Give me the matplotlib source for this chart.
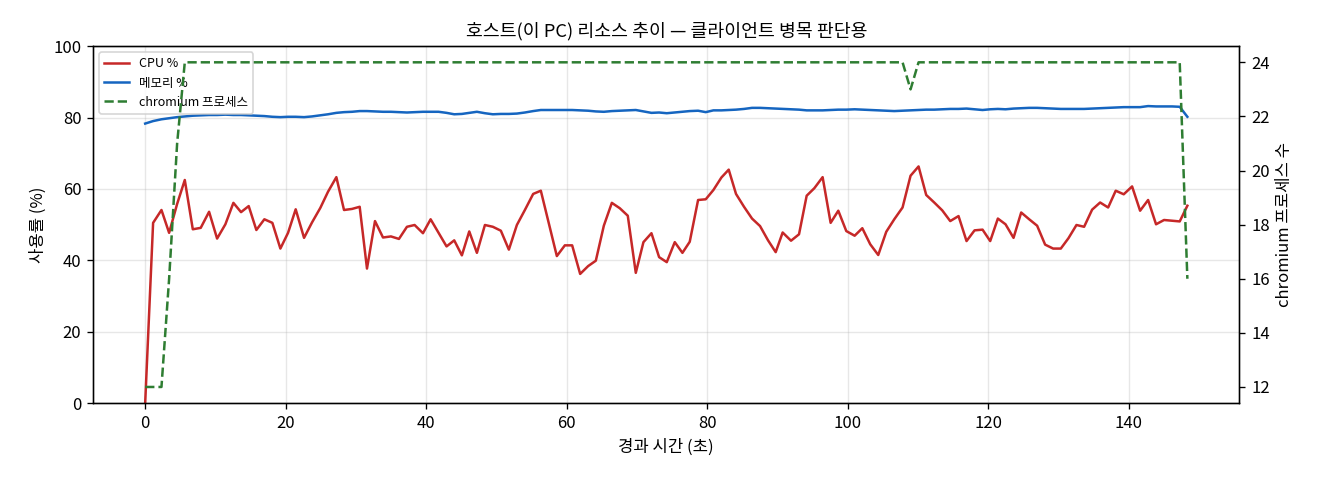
import matplotlib
matplotlib.use("Agg")
import matplotlib.pyplot as plt

plt.rcParams['font.family'] = ['Noto Sans CJK KR', 'DejaVu Sans']
plt.rcParams['axes.unicode_minus'] = False

# elapsed time (s) of each sample
t = [0.0, 1.13, 2.32, 3.41, 4.55, 5.64, 6.78, 7.91, 9.10, 10.24,
     11.42, 12.56, 13.65, 14.74, 15.83, 16.97, 18.11, 19.25, 20.34, 21.43,
     22.62, 23.75, 24.94, 26.03, 27.22, 28.31, 29.45, 30.54, 31.58, 32.72,
     33.86, 34.99, 36.13, 37.27, 38.36, 39.55, 40.64, 41.77, 42.91, 44.00,
     45.09, 46.14, 47.23, 48.37, 49.50, 50.64, 51.78, 52.92, 54.06, 55.24,
     56.33, 57.47, 58.61, 59.75, 60.79, 61.93, 63.07, 64.16, 65.30, 66.44,
     67.57, 68.71, 69.85, 70.94, 72.08, 73.17, 74.26, 75.40, 76.49, 77.53,
     78.72, 79.81, 80.90, 82.04, 83.08, 84.12, 85.26, 86.40, 87.54, 88.68,
     89.77, 90.76, 91.95, 93.09, 94.18, 95.27, 96.45, 97.59, 98.68, 99.82,
     101.01, 102.10, 103.23, 104.37, 105.51, 106.65, 107.83, 108.97, 110.11, 111.20,
     112.34, 113.48, 114.62, 115.80, 116.94, 118.08, 119.22, 120.31, 121.40, 122.49,
     123.63, 124.72, 125.86, 126.99, 128.13, 129.27, 130.36, 131.45, 132.59, 133.68,
     134.82, 135.96, 137.10, 138.18, 139.32, 140.51, 141.65, 142.79, 143.92, 145.06,
     146.20, 147.29, 148.38]

cpu = [0.0, 50.5, 54.1, 47.7, 55.8, 62.5, 48.7, 49.1, 53.6, 46.1,
       50.1, 56.1, 53.5, 55.2, 48.5, 51.5, 50.5, 43.3, 47.7, 54.3,
       46.3, 50.6, 54.7, 59.2, 63.3, 54.1, 54.4, 55.0, 37.7, 51.0,
       46.4, 46.7, 46.0, 49.4, 49.9, 47.6, 51.5, 47.7, 43.9, 45.6,
       41.4, 48.1, 42.1, 49.9, 49.4, 48.3, 43.0, 49.9, 54.1, 58.6,
       59.5, 50.3, 41.2, 44.2, 44.2, 36.2, 38.4, 39.9, 49.7, 56.1,
       54.6, 52.5, 36.5, 45.1, 47.6, 40.9, 39.5, 45.1, 42.1, 45.2,
       56.9, 57.1, 59.7, 63.2, 65.4, 58.6, 55.0, 51.7, 49.6, 45.6,
       42.3, 47.8, 45.5, 47.3, 58.1, 60.2, 63.3, 50.5, 53.9, 48.2,
       46.9, 49.0, 44.5, 41.5, 48.0, 51.5, 54.8, 63.7, 66.3, 58.3,
       56.2, 54.0, 51.0, 52.4, 45.4, 48.4, 48.6, 45.4, 51.7, 50.1,
       46.3, 53.4, 51.5, 49.7, 44.4, 43.3, 43.3, 46.2, 49.9, 49.4,
       54.2, 56.2, 54.8, 59.5, 58.5, 60.7, 53.9, 56.9, 50.1, 51.3,
       51.1, 50.9, 55.3]

mem = [78.3, 79.0, 79.5, 79.8, 80.1, 80.3, 80.5, 80.6, 80.7, 80.7,
       80.8, 80.7, 80.7, 80.6, 80.5, 80.4, 80.2, 80.1, 80.2, 80.2,
       80.1, 80.3, 80.6, 80.9, 81.3, 81.5, 81.6, 81.8, 81.8, 81.7,
       81.6, 81.6, 81.5, 81.4, 81.5, 81.6, 81.6, 81.6, 81.3, 80.9,
       81.0, 81.3, 81.6, 81.2, 80.9, 81.0, 81.0, 81.1, 81.4, 81.8,
       82.1, 82.1, 82.1, 82.1, 82.1, 82.0, 81.9, 81.7, 81.6, 81.8,
       81.9, 82.0, 82.1, 81.7, 81.3, 81.4, 81.2, 81.4, 81.6, 81.8,
       81.9, 81.5, 82.0, 82.0, 82.1, 82.2, 82.4, 82.7, 82.7, 82.6,
       82.5, 82.4, 82.3, 82.2, 82.0, 82.0, 82.0, 82.1, 82.2, 82.2,
       82.3, 82.2, 82.1, 82.0, 81.9, 81.8, 81.9, 82.0, 82.1, 82.2,
       82.2, 82.3, 82.4, 82.4, 82.5, 82.3, 82.1, 82.3, 82.4, 82.3,
       82.5, 82.6, 82.7, 82.7, 82.6, 82.5, 82.4, 82.4, 82.4, 82.4,
       82.5, 82.6, 82.7, 82.8, 82.9, 82.9, 82.9, 83.2, 83.1, 83.1,
       83.1, 83.0, 80.2]

procs = [12, 12, 12, 16, 21] + [24] * 92 + [23] + [24] * 34 + [16]

fig, ax = plt.subplots(figsize=(11, 4), dpi=120)
fig.subplots_adjust(left=0.0705, right=0.939, top=0.904, bottom=0.16)
ax2 = ax.twinx()

l1, = ax.plot(t, cpu, color='#c62828', lw=1.5, label='CPU %')
l2, = ax.plot(t, mem, color='#1565c0', lw=1.5, label='메모리 %')
l3, = ax2.plot(t, procs, color='#2e7d32', lw=1.5, ls='--', label='chromium 프로세스')

ax.set_ylim(0, 100)
ax.set_xlabel('경과 시간 (초)')
ax.set_ylabel('사용률 (%)')
ax2.set_ylabel('chromium 프로세스 수')
ax.set_title('호스트(이 PC) 리소스 추이 — 클라이언트 병목 판단용', fontsize=11)
ax.grid(alpha=0.3)
ax.legend(handles=[l1, l2, l3], loc='upper left', fontsize=7.5)

fig.savefig('out.png')
